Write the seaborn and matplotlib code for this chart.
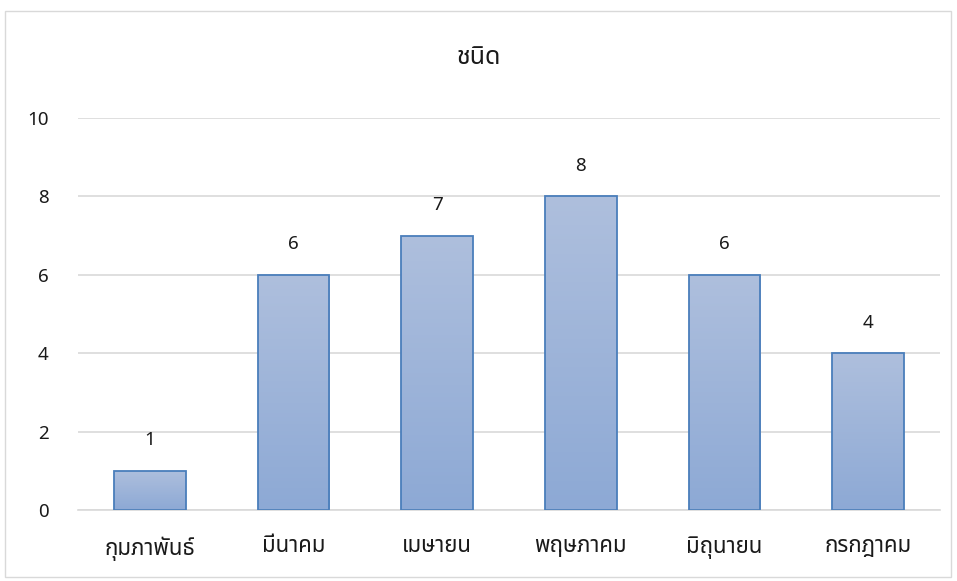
import numpy as np
import pandas as pd
import seaborn as sns
import matplotlib.pyplot as plt
from matplotlib.colors import LinearSegmentedColormap
from matplotlib.patches import Rectangle

months = ["กุมภาพันธ์", "มีนาคม", "เมษายน", "พฤษภาคม", "มิถุนายน", "กรกฎาคม"]
counts = [1, 6, 7, 8, 6, 4]
title = "ชนิด"

sns.set_style("white")
plt.rcParams['font.family'] = ['Noto Sans Thai', 'Loma', 'Garuda', 'DejaVu Sans']

df = pd.DataFrame({"month": months, "count": counts})

fig = plt.figure(figsize=(9.57, 5.81), dpi=100)
ax = fig.add_axes([78/957, 71/581, 862/957, 392/581])

sns.barplot(data=df, x="month", y="count", ax=ax, width=0.5,
            color="#9db2da", edgecolor="#4a7ebb", linewidth=1.3, zorder=3)

# gradient fill inside each bar
cmap = LinearSegmentedColormap.from_list("g", ["#8da9d5", "#aebfdd"])
grad = np.linspace(0, 1, 256).reshape(-1, 1)
for p in ax.patches:
    x0, y0 = p.get_x(), p.get_y()
    w, h = p.get_width(), p.get_height()
    im = ax.imshow(grad, cmap=cmap, origin="lower", aspect="auto",
                   extent=[x0, x0 + w, y0, y0 + h], zorder=2.5)
    im.set_clip_path(p)
    p.set_facecolor("none")
    p.set_zorder(4)

txt = "#1a1a1a"
for i, v in enumerate(counts):
    ax.text(i, v + 0.55, str(v), ha="center", va="bottom", fontsize=13.5, color=txt)

ax.set_xlim(-0.5, len(months) - 0.5)
ax.set_ylim(0, 10)
ax.set_yticks(range(0, 11, 2))
ax.yaxis.grid(True, color="#d9d9d9", linewidth=1.2, zorder=0)
for s in ["top", "right", "left"]:
    ax.spines[s].set_visible(False)
ax.spines["bottom"].set_color("#d9d9d9")
ax.spines["bottom"].set_linewidth(1.2)
ax.tick_params(axis="both", length=0, labelcolor=txt)
ax.tick_params(axis="x", pad=19, labelsize=16)
ax.tick_params(axis="y", pad=21, labelsize=13.5)
ax.set_xlabel("")
ax.set_ylabel("")
fig.text(0.5, 1 - 57/581, title, ha="center", va="center", fontsize=18, color=txt)

fig.patches.append(Rectangle((5/957, 1 - 577/581), 946/957, 566/581, transform=fig.transFigure,
                             fill=False, edgecolor="#d9d9d9", linewidth=1))

fig.savefig("out.png", dpi=100)
